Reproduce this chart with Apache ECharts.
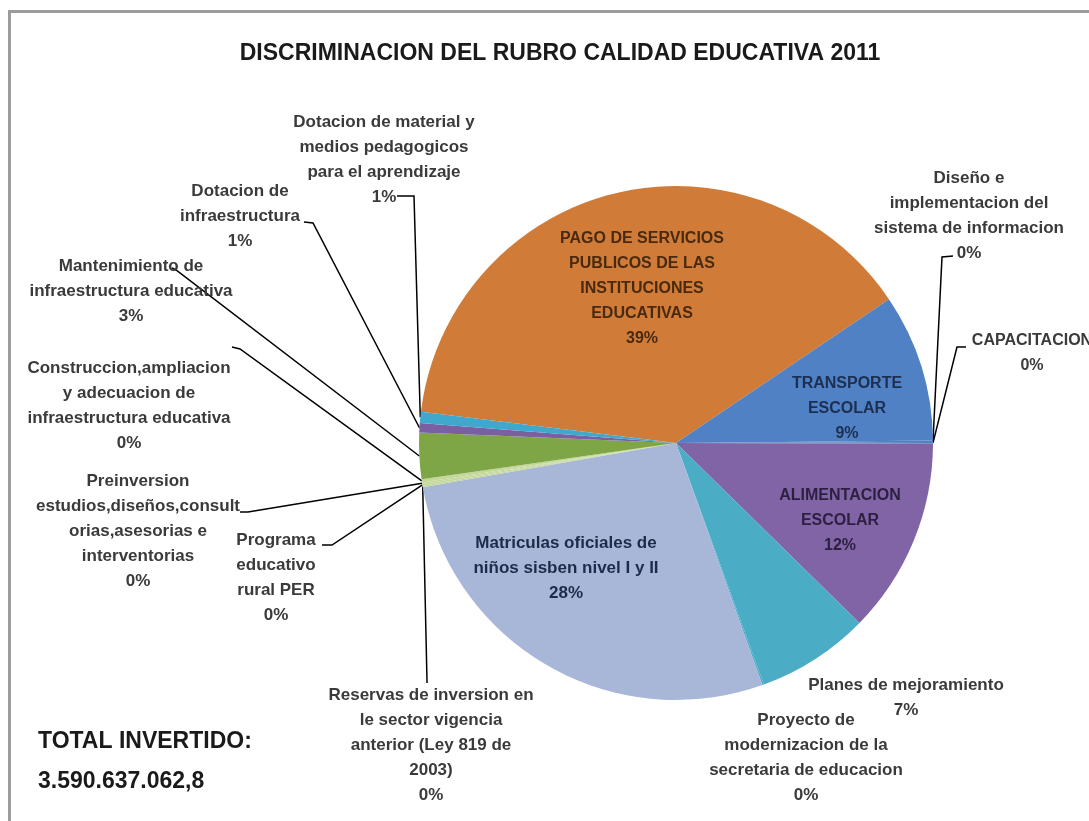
<!DOCTYPE html>
<html>
<head>
<meta charset="utf-8">
<script src="https://cdn.jsdelivr.net/npm/echarts@6/dist/echarts.min.js"></script>
<style>
html,body{margin:0;padding:0;background:#ffffff;}
#chart{width:1089px;height:821px;}
</style>
</head>
<body>
<div id="chart"></div>
<script>
// ---------- DATA ----------
const chartTitle = 'DISCRIMINACION DEL RUBRO CALIDAD EDUCATIVA 2011';
const totalLabel = 'TOTAL INVERTIDO:';
const totalValue = '3.590.637.062,8';

// categories in clockwise order, starting with the large orange slice
const categories = [
  'PAGO DE SERVICIOS\nPUBLICOS DE LAS\nINSTITUCIONES\nEDUCATIVAS',
  'TRANSPORTE\nESCOLAR',
  'Diseño e\nimplementacion del\nsistema de informacion',
  'CAPACITACION',
  'ALIMENTACION\nESCOLAR',
  'Planes de mejoramiento',
  'Proyecto de\nmodernizacion de la\nsecretaria de educacion',
  'Matriculas oficiales de\nniños sisben nivel I y II',
  'Reservas de inversion en\nle sector vigencia\nanterior (Ley 819 de\n2003)',
  'Programa\neducativo\nrural PER',
  'Preinversion\nestudios,diseños,consult\norias,asesorias e\ninterventorias',
  'Construccion,ampliacion\ny adecuacion de\ninfraestructura educativa',
  'Mantenimiento de\ninfraestructura educativa',
  'Dotacion de\ninfraestructura',
  'Dotacion de material y\nmedios pedagogicos\npara el aprendizaje'
];
// estimated share of total (%)
const shares = [38.6, 9.3, 0.1, 0.1, 12.3, 7.1, 0.1, 27.7, 0.1, 0.1, 0.1, 0.2, 2.9, 0.6, 0.7];

// ---------- STYLE / LAYOUT ----------
const sliceColors = ['#D07B38', '#4F81C4', '#4F81BD', '#4F81BD', '#8064A6', '#4BACC6', '#4BACC6',
  '#A8B6D8', '#C4D79B', '#C4D79B', '#C4D79B', '#C4D79B', '#7FA646', '#7A5FA3', '#3FA8CC'];
const labelColors = ['#4a2a0e', '#1c2f50', '#3a3a3a', '#3a3a3a', '#2d1f40', '#3a3a3a', '#3a3a3a',
  '#1e2b48', '#3a3a3a', '#3a3a3a', '#3a3a3a', '#3a3a3a', '#3a3a3a', '#3a3a3a', '#3a3a3a'];
const labelSizes = [16, 16, 17, 16, 16, 17, 17, 17, 17, 17, 17, 17, 17, 17, 17];
// label block centres (px)
const labelCenters = [
  [642, 289], [847, 409], [969, 216], [1032, 353], [840, 521], [906, 698], [806, 758],
  [566, 568], [431, 745], [276, 578], [138, 531], [129, 406], [131, 291], [240, 216], [384, 160]
];
// leader lines: [anchorX, anchorY, elbowX, elbowY] or null
const leaders = [
  null, null, [953, 256, 942, 257], [966, 347, 957, 347], null, null, null,
  null, [427, 683, 427, 681], [322, 545, 332, 545], [240, 512, 248, 512], [232, 347, 240, 349],
  [172, 268, 176, 270], [304, 222, 313, 223], [397, 196, 414, 196]
];

const FONT = '"Liberation Sans", Arial, sans-serif';

const pieData = categories.map((name, i) => ({
  name: name,
  value: shares[i],
  itemStyle: { color: sliceColors[i] },
  label: { color: labelColors[i], fontSize: labelSizes[i] },
  labelLine: { show: leaders[i] !== null }
}));

const chart = echarts.init(document.getElementById('chart'), null, { renderer: 'canvas' });
chart.setOption({
  backgroundColor: '#ffffff',
  animation: false,
  title: [{
    text: chartTitle,
    left: 555,
    top: 37,
    textAlign: 'center',
    textStyle: { fontFamily: FONT, fontSize: 23, fontWeight: 'bold', color: '#1a1a1a' }
  }, {
    text: totalLabel + '\n' + totalValue,
    left: 33,
    top: 717,
    textStyle: { fontFamily: FONT, fontSize: 23, fontWeight: 'bold', color: '#1a1a1a', lineHeight: 40 }
  }],
  graphic: [{
    type: 'rect',
    silent: true,
    z: -10,
    shape: { x: 9.5, y: 11.5, width: 1200, height: 1000 },
    style: { fill: 'none', stroke: '#9c9c9c', lineWidth: 3 }
  }],
  series: [{
    type: 'pie',
    center: [676, 443],
    radius: 257,
    startAngle: 173,
    clockwise: true,
    percentPrecision: 0,
    avoidLabelOverlap: false,
    data: pieData,
    itemStyle: { borderWidth: 0 },
    label: {
      show: true,
      position: 'outside',
      fontFamily: FONT,
      fontWeight: 'bold',
      lineHeight: 25,
      align: 'center',
      formatter: p => p.name + '\n' + p.percent + '%'
    },
    labelLine: {
      show: true,
      length: 10,
      length2: 10,
      lineStyle: { color: '#000000', width: 1.5 }
    },
    labelLayout: function (params) {
      const i = params.dataIndex;
      const c = labelCenters[i];
      const res = { x: c[0], y: c[1], align: 'center', verticalAlign: 'middle' };
      const ld = leaders[i];
      if (ld && params.labelLinePoints && params.labelLinePoints.length) {
        const e = params.labelLinePoints[0];
        res.labelLinePoints = [[e[0], e[1]], [ld[2], ld[3]], [ld[0], ld[1]]];
      }
      return res;
    }
  }]
});
</script>
</body>
</html>
